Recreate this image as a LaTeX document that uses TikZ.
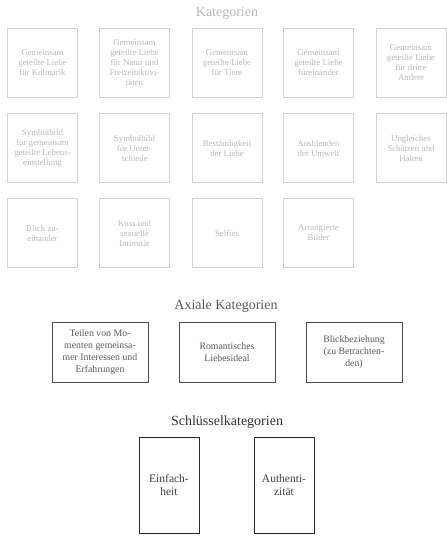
\documentclass[tikz,border=0pt]{standalone}
\usepackage{fontspec}
\setmainfont{Liberation Serif}

\begin{document}
\begin{tikzpicture}[x=1pt,y=-1pt,
	kat/.style={draw=gray!35,line width=0.9pt,minimum width=70pt,minimum height=69pt,text=gray!55,font=\fontsize{8.8}{10}\selectfont,align=center,inner sep=1pt},
	axkat/.style={draw=black!70,line width=0.8pt,minimum width=96pt,minimum height=60pt,text=black!65,font=\fontsize{9.8}{12}\selectfont,align=center,inner sep=1pt},
	skat/.style={draw=black!85,line width=1pt,minimum width=60pt,minimum height=96pt,text=black!75,font=\fontsize{11.5}{13.5}\selectfont,align=center,inner sep=1pt},
	titel/.style={font=\fontsize{14}{16}\selectfont}]
	\useasboundingbox (0,0) rectangle (447,539);
	% offene Kategorien
	\node[titel,text=gray!55] (t1) at (227,13) {Kategorien};
	\node[kat] (k11) at (42.5,63) {Gemeinsam\\geteilte Liebe\\für Kulinarik};
	\node[kat] (k12) at (134.5,63) {Gemeinsam\\geteilte Liebe\\für Natur und\\Freizeitaktivi-\\täten};
	\node[kat] (k13) at (227,63) {Gemeinsam\\geteilte Liebe\\für Tiere};
	\node[kat] (k14) at (318.5,63) {Gemeinsam\\geteilte Liebe\\füreinander};
	\node[kat] (k15) at (411,63) {Gemeinsam\\geteilte Liebe\\für dritte\\Andere};
	\node[kat] (k21) at (42.5,148) {Symbolbild\\für gemeinsam\\geteilte Lebens-\\einstellung};
	\node[kat] (k22) at (134.5,148) {Symbolbild\\für Unter-\\schiede};
	\node[kat] (k23) at (227,148) {Beständigkeit\\der Liebe};
	\node[kat] (k24) at (318.5,148) {Ausblenden\\der Umwelt};
	\node[kat] (k25) at (411,148) {Ungleiches\\Schätzen und\\Halten};
	\node[kat] (k31) at (42.5,233) {Blick zu-\\einander};
	\node[kat] (k32) at (134.5,233) {Kuss und\\sexuelle\\Intimität};
	\node[kat] (k33) at (227,233) {Selfies};
	\node[kat] (k34) at (318.5,233) {Arrangierte\\Bilder};
	% axiale Kategorien
	\node[titel,text=black!65] (t2) at (226,306) {Axiale Kategorien};
	\node[axkat] (a1) at (100,352) {Teilen von Mo-\\menten gemeinsa-\\mer Interessen und\\Erfahrungen};
	\node[axkat] (a2) at (227,352) {Romantisches\\Liebesideal};
	\node[axkat] (a3) at (354,352) {Blickbeziehung\\(zu Betrachten-\\den)};
	% Schluesselkategorien
	\node[titel,text=black!80] (t3) at (227,422) {Schlüsselkategorien};
	\node[skat] (s1) at (169,485) {Einfach-\\heit};
	\node[skat] (s2) at (284,485) {Authenti-\\zität};
\end{tikzpicture}
\end{document}
